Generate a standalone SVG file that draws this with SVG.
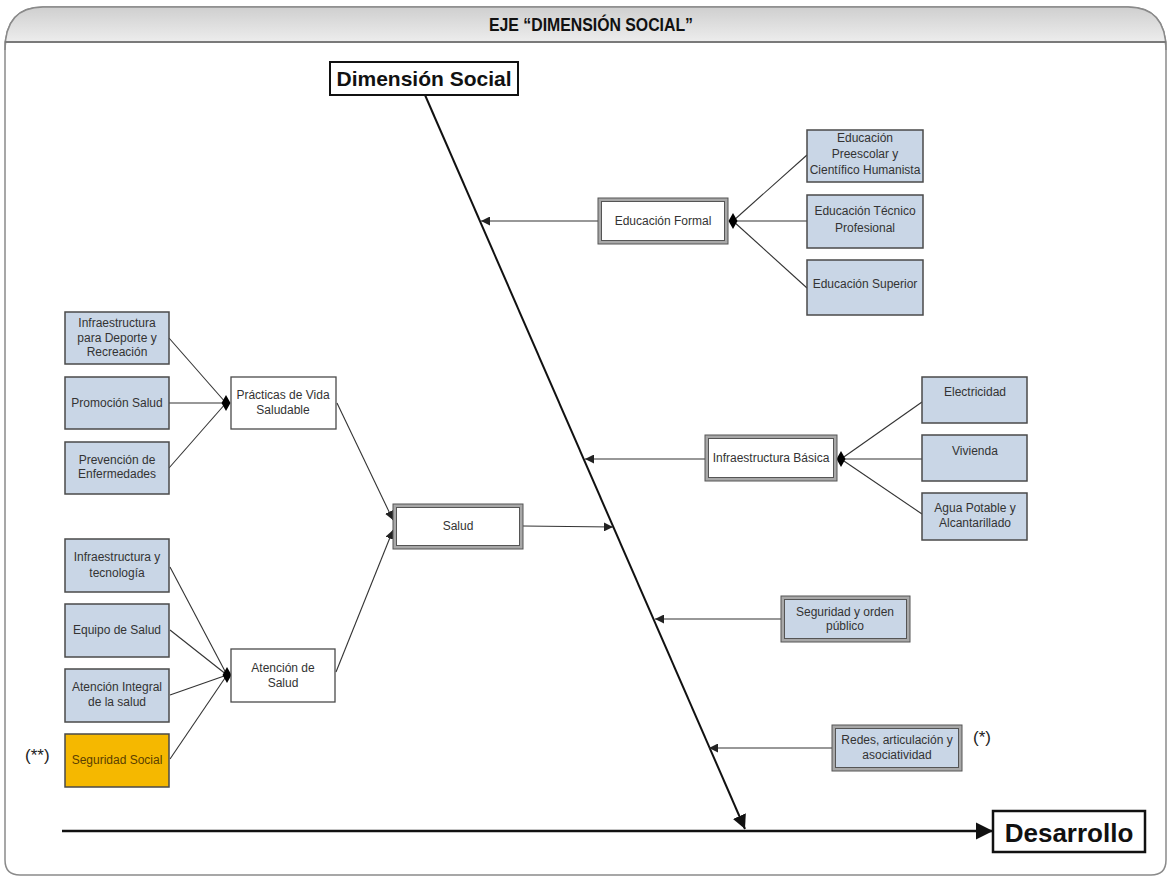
<svg xmlns="http://www.w3.org/2000/svg" width="1171" height="878" viewBox="0 0 1171 878">
<defs>
<linearGradient id="hdr" x1="0" y1="0" x2="0" y2="1">
<stop offset="0" stop-color="#cfcfcf"/>
<stop offset="1" stop-color="#f4f4f4"/>
</linearGradient>
<marker id="ah" viewBox="0 0 10 10" refX="10" refY="5" markerWidth="9" markerHeight="9" markerUnits="userSpaceOnUse" orient="auto">
<path d="M0,0 L10,5 L0,10 z" fill="#222"/>
</marker>
<marker id="ahBig" viewBox="0 0 10 10" refX="10" refY="5" markerWidth="7" markerHeight="7" orient="auto">
<path d="M0,0 L10,5 L0,10 z" fill="#111"/>
</marker>
</defs>
<style>
.t{font-family:"Liberation Sans",Arial,sans-serif;font-size:12px;fill:#333;text-anchor:middle}
.blue{fill:#c9d6e6;stroke:#4a4a4a;stroke-width:1.5}
.yel{fill:#f5b800;stroke:#4a4a4a;stroke-width:1.5}
.wht{fill:#fff;stroke:#4a4a4a;stroke-width:1.3}
.dbo{fill:#a8a8a8;stroke:#555;stroke-width:1}
.dbi{stroke:#555;stroke-width:1}
.c{stroke:#333;stroke-width:1.1;fill:none}
.ca{stroke:#333;stroke-width:1.1;fill:none;marker-end:url(#ah)}
.dia{fill:#000}
.big{font-family:"Liberation Sans",Arial,sans-serif;font-weight:bold;fill:#111;text-anchor:middle}
.note{font-family:"Liberation Sans",Arial,sans-serif;font-size:17px;fill:#222}
</style>

<g id="frame">
<path d="M5,50 Q5,7 43,7 L1128,7 Q1166,7 1166,50 L1166,860 Q1166,875 1151,875 L20,875 Q5,875 5,860 Z" fill="#fff" stroke="#8a8a8a" stroke-width="1.5"/>
<path d="M5,42 L5,50 Q5,7 43,7 L1128,7 Q1166,7 1166,50 L1166,42 Z" fill="url(#hdr)" stroke="#8a8a8a" stroke-width="1.5"/>
<line x1="5" y1="42" x2="1166" y2="42" stroke="#7a7a7a" stroke-width="2"/>
<text class="big" font-size="18" transform="translate(591,31) scale(0.88,1)">EJE “DIMENSIÓN SOCIAL”</text>
</g>

<g id="connectors">
<line x1="425" y1="95" x2="745" y2="829" stroke="#111" stroke-width="2" marker-end="url(#ahBig)"/>
<line x1="62" y1="831" x2="993" y2="831" stroke="#111" stroke-width="2.5" marker-end="url(#ahBig)"/>
<line class="ca" x1="598" y1="221" x2="481" y2="221"/>
<line class="ca" x1="705" y1="459" x2="585" y2="459"/>
<line class="ca" x1="781" y1="619" x2="655" y2="619"/>
<line class="ca" x1="832" y1="748" x2="709" y2="748"/>
<line class="ca" x1="523" y1="526" x2="613" y2="527"/>
<line class="ca" x1="337" y1="403" x2="393" y2="520"/>
<line class="ca" x1="336" y1="672" x2="393" y2="530"/>
<line class="c" x1="733" y1="221" x2="807" y2="155"/>
<line class="c" x1="733" y1="221" x2="807" y2="221"/>
<line class="c" x1="733" y1="221" x2="807" y2="288"/>
<line class="c" x1="841" y1="459" x2="922" y2="402"/>
<line class="c" x1="841" y1="459" x2="922" y2="459"/>
<line class="c" x1="841" y1="459" x2="922" y2="514"/>
<line class="c" x1="169" y1="338" x2="226" y2="403"/>
<line class="c" x1="169" y1="403" x2="226" y2="403"/>
<line class="c" x1="169" y1="468" x2="226" y2="403"/>
<line class="c" x1="170" y1="567" x2="227" y2="675"/>
<line class="c" x1="170" y1="630" x2="227" y2="675"/>
<line class="c" x1="170" y1="695" x2="227" y2="675"/>
<line class="c" x1="170" y1="759" x2="227" y2="675"/>
<polygon class="dia" points="733,213 737.5,221 733,229 728.5,221"/>
<polygon class="dia" points="841,451 845.5,459 841,467 836.5,459"/>
<polygon class="dia" points="226,395 230.5,403 226,411 221.5,403"/>
<polygon class="dia" points="227,667 231.5,675 227,683 222.5,675"/>
</g>

<g id="dimension-social">
<rect x="330" y="62" width="188" height="33" fill="#fff" stroke="#111" stroke-width="2"/>
<text x="424" y="86" class="big" font-size="21">Dimensión Social</text>
</g>

<g id="desarrollo">
<rect x="993" y="811" width="152" height="41" fill="#fff" stroke="#111" stroke-width="2.5"/>
<text x="1069" y="842" class="big" font-size="26">Desarrollo</text>
</g>

<g id="educacion-formal">
<rect class="dbo" x="598" y="198" width="130" height="46"/>
<rect class="dbi" x="601.5" y="201.5" width="123" height="39" fill="#fff"/>
<text class="t" x="663" y="225">Educación Formal</text>
</g>
<g id="edu-preescolar">
<rect class="blue" x="807" y="130" width="116" height="52"/>
<text class="t" x="865" y="142">Educación</text>
<text class="t" x="865" y="158">Preescolar y</text>
<text class="t" x="865" y="174">Científico Humanista</text>
</g>
<g id="edu-tecnico">
<rect class="blue" x="807" y="195" width="116" height="53"/>
<text class="t" x="865" y="215">Educación Técnico</text>
<text class="t" x="865" y="232">Profesional</text>
</g>
<g id="edu-superior">
<rect class="blue" x="807" y="260" width="116" height="55"/>
<text class="t" x="865" y="288">Educación Superior</text>
</g>

<g id="infra-basica">
<rect class="dbo" x="705" y="435" width="132" height="46"/>
<rect class="dbi" x="708.5" y="438.5" width="125" height="39" fill="#fff"/>
<text class="t" x="771" y="462">Infraestructura Básica</text>
</g>
<g id="electricidad">
<rect class="blue" x="922" y="377" width="105" height="46"/>
<text class="t" x="975" y="396">Electricidad</text>
</g>
<g id="vivienda">
<rect class="blue" x="922" y="435" width="105" height="46"/>
<text class="t" x="975" y="455">Vivienda</text>
</g>
<g id="agua">
<rect class="blue" x="922" y="493" width="105" height="47"/>
<text class="t" x="975" y="512">Agua Potable y</text>
<text class="t" x="975" y="527">Alcantarillado</text>
</g>

<g id="seguridad-orden">
<rect class="dbo" x="781" y="596" width="129" height="46" fill="#8d8d8d"/>
<rect class="dbi" x="784.5" y="599.5" width="122" height="39" fill="#c9d6e6"/>
<text class="t" x="845" y="616">Seguridad y orden</text>
<text class="t" x="845" y="630">público</text>
</g>

<g id="redes">
<rect class="dbo" x="832" y="725" width="130" height="46"/>
<rect class="dbi" x="835.5" y="728.5" width="123" height="39" fill="#c9d6e6"/>
<text class="t" x="897" y="744">Redes, articulación y</text>
<text class="t" x="897" y="759">asociatividad</text>
<text class="note" x="973" y="743">(*)</text>
</g>

<g id="salud">
<rect class="dbo" x="393" y="504" width="130" height="45"/>
<rect class="dbi" x="396.5" y="507.5" width="123" height="38" fill="#fff"/>
<text class="t" x="458" y="530">Salud</text>
</g>

<g id="practicas">
<rect class="wht" x="231" y="377" width="105" height="52"/>
<text class="t" x="283" y="399">Prácticas de Vida</text>
<text class="t" x="283" y="414">Saludable</text>
</g>
<g id="infra-deporte">
<rect class="blue" x="65" y="312" width="104" height="52"/>
<text class="t" x="117" y="327">Infraestructura</text>
<text class="t" x="117" y="342">para Deporte y</text>
<text class="t" x="117" y="356">Recreación</text>
</g>
<g id="promocion">
<rect class="blue" x="65" y="377" width="104" height="52"/>
<text class="t" x="117" y="407">Promoción Salud</text>
</g>
<g id="prevencion">
<rect class="blue" x="65" y="442" width="104" height="52"/>
<text class="t" x="117" y="464">Prevención de</text>
<text class="t" x="117" y="478">Enfermedades</text>
</g>

<g id="atencion">
<rect class="wht" x="231" y="649" width="104" height="53"/>
<text class="t" x="283" y="672">Atención de</text>
<text class="t" x="283" y="687">Salud</text>
</g>
<g id="infra-tecnologia">
<rect class="blue" x="65" y="539" width="104" height="53"/>
<text class="t" x="117" y="561">Infraestructura y</text>
<text class="t" x="117" y="577">tecnología</text>
</g>
<g id="equipo">
<rect class="blue" x="65" y="604" width="104" height="53"/>
<text class="t" x="117" y="634">Equipo de Salud</text>
</g>
<g id="atencion-integral">
<rect class="blue" x="65" y="669" width="104" height="53"/>
<text class="t" x="117" y="691">Atención Integral</text>
<text class="t" x="117" y="706">de la salud</text>
</g>
<g id="seguridad-social">
<rect class="yel" x="65" y="734" width="104" height="53"/>
<text class="t" x="117" y="764" style="fill:#5a4000">Seguridad Social</text>
<text class="note" x="25" y="761">(**)</text>
</g>
</svg>
